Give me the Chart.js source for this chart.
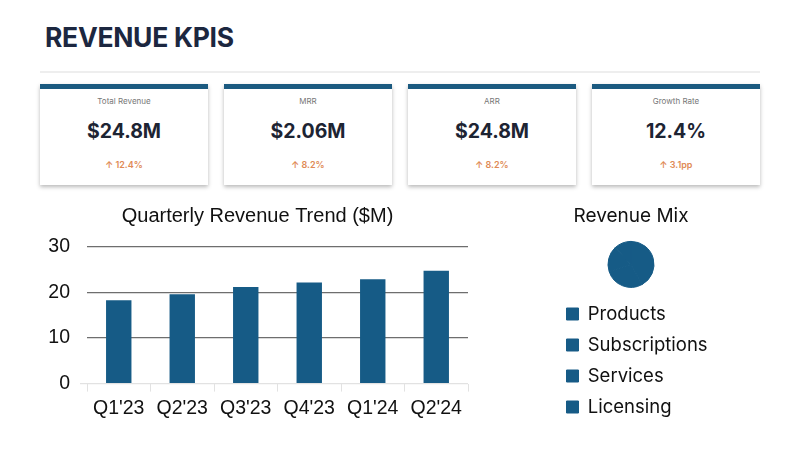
<!DOCTYPE html>
<html><head><meta charset="utf-8">
<script src="https://cdn.jsdelivr.net/npm/chart.js@4"></script>
<style>
html,body{margin:0;padding:0;background:#fff;width:800px;height:450px;overflow:hidden;font-family:Inter,"Noto Sans",sans-serif;}
#hdr{position:absolute;left:45px;top:21px;font-size:26.5px;font-weight:700;color:#1c2740;letter-spacing:-0.3px;line-height:32px;}
#rule{position:absolute;left:40px;top:71px;width:720px;height:2px;background:#eeeeee;}
.card{position:absolute;top:84px;width:168px;height:101px;background:#fff;border-top:5px solid #1b5a80;box-shadow:0 2px 4px rgba(0,0,0,0.28);box-sizing:border-box;text-align:center;}
.card .lbl{position:absolute;top:7px;width:100%;font-size:8px;color:#777;}
.card .val{position:absolute;top:30px;width:100%;font-size:19.5px;font-weight:700;color:#1d2433;}
.card .chg{position:absolute;top:70px;width:100%;font-size:9px;font-weight:600;color:#e08a55;}
#barWrap{position:absolute;left:30px;top:200px;width:450px;height:225px;}
#pieWrap{position:absolute;left:554px;top:150px;width:160px;height:300px;}
</style></head>
<body>
<div id="hdr">REVENUE KPIS</div>
<div id="rule"></div>
<div id="cards"></div>
<div id="barWrap"><canvas id="bar"></canvas></div>
<div id="pieWrap"><canvas id="pie"></canvas></div>
<script>
const kpiLabels = ["Total Revenue","MRR","ARR","Growth Rate"];
const kpiValues = ["$24.8M","$2.06M","$24.8M","12.4%"];
const kpiChanges = ["12.4%","8.2%","8.2%","3.1pp"];

const quarters = ["Q1'23","Q2'23","Q3'23","Q4'23","Q1'24","Q2'24"];
const revenue = [18.3,19.6,21.2,22.2,22.9,24.8];

const mixLabels = ["Products","Subscriptions","Services","Licensing"];
const mixValues = [42,28,18,12];

const cardsEl = document.getElementById('cards');
kpiLabels.forEach((l,i)=>{
  const d = document.createElement('div');
  d.className='card';
  d.style.left = (40 + i*184) + 'px';
  d.innerHTML = '<div class="lbl">'+l+'</div><div class="val">'+kpiValues[i]+'</div><div class="chg">\u2191 '+kpiChanges[i]+'</div>';
  cardsEl.appendChild(d);
});

const blue = '#165b86';
const arial = '"Liberation Sans",Arial,sans-serif';
new Chart(document.getElementById('bar'),{
  type:'bar',
  data:{labels:quarters,datasets:[{data:revenue,backgroundColor:blue,barPercentage:0.5,categoryPercentage:0.8}]},
  options:{
    responsive:true,maintainAspectRatio:false,animation:false,
    layout:{padding:{right:12,left:17,top:0,bottom:0}},
    plugins:{
      legend:{display:false},tooltip:{enabled:false},
      title:{display:true,text:'Quarterly Revenue Trend ($M)',color:'#111',font:{family:arial,size:20,weight:'normal'},padding:{top:4,bottom:19}}
    },
    scales:{
      y:{min:0,max:30,afterFit:(s)=>{s.width=40;},
         ticks:{stepSize:10,color:'#111',font:{family:arial,size:19.5},padding:10},
         grid:{color:(c)=>c.tick&&c.tick.value===0?'#e2e2e2':'#6e6e6e',
               tickColor:(c)=>c.tick&&c.tick.value===0?'#e2e2e2':'rgba(0,0,0,0)',
               lineWidth:1.2,drawTicks:true,tickLength:7},border:{display:false}},
      x:{ticks:{color:'#111',font:{family:arial,size:19.5},padding:5},
         grid:{display:true,drawOnChartArea:false,drawTicks:true,tickLength:8,color:'#e2e2e2',offset:true},border:{display:false}}
    }
  }
});

new Chart(document.getElementById('pie'),{
  type:'pie',
  data:{labels:mixLabels,datasets:[{data:mixValues,backgroundColor:blue,borderColor:blue,borderWidth:1,radius:23}]},
  options:{
    responsive:true,maintainAspectRatio:false,animation:false,
    layout:{padding:{top:0,bottom:23.75,left:0,right:6}},
    plugins:{
      tooltip:{enabled:false},
      title:{display:true,text:'Revenue Mix',color:'#111',font:{family:'Inter,"Noto Sans"',size:19,weight:'normal'},padding:{top:55,bottom:8.7}},
      legend:{position:'bottom',align:'start',labels:{boxWidth:12,boxHeight:12,padding:12.5,color:'#111',font:{family:'Inter,"Noto Sans"',size:18.5}}}
    }
  }
});
</script>
</body></html>
